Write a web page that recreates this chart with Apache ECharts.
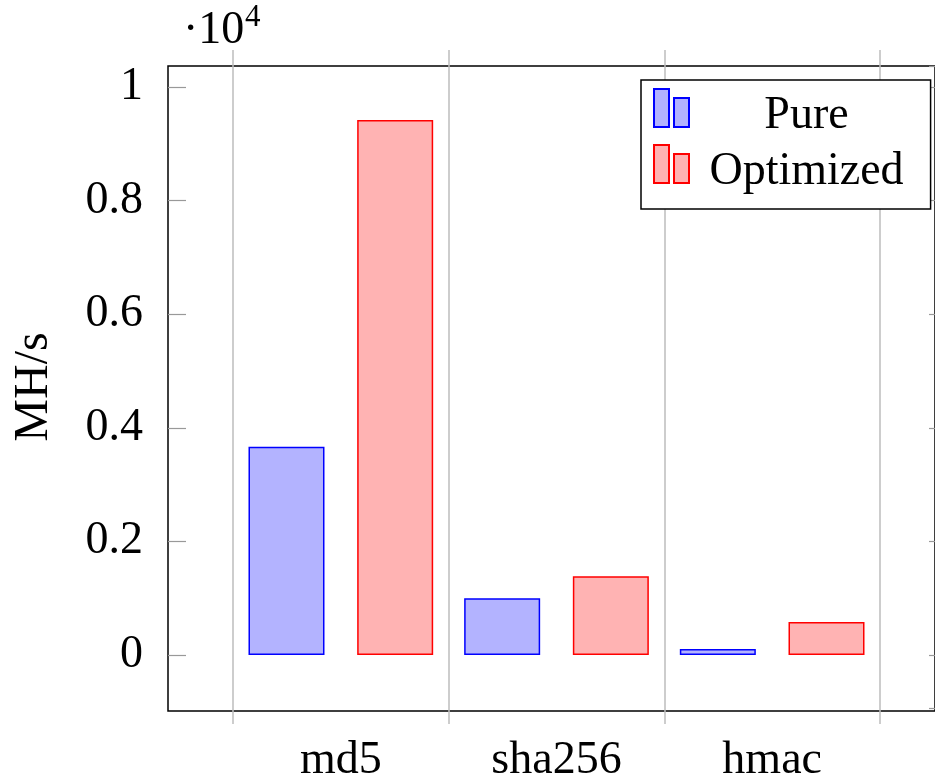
<!DOCTYPE html>
<html>
<head>
<meta charset="utf-8">
<script src="https://cdn.jsdelivr.net/npm/echarts@6/dist/echarts.min.js"></script>
<style>
  html, body { margin: 0; padding: 0; background: #fff; }
  #chart { width: 935px; height: 784px; }
</style>
</head>
<body>
<div id="chart"></div>
<script>
  // data (MH/s)
  const categories = ['md5', 'sha256', 'hmac'];
  const pure = [3667, 1000, 105];
  const optimized = [9421, 1386, 579];

  const FONT = 'Liberation Serif';
  const GRAY = '#bdbdbd';
  const NOLINE = { show: true, onZero: false, lineStyle: { color: 'rgba(0,0,0,0)' } };
  const Y_MIN = -934, Y_MAX = 10373;

  const chart = echarts.init(document.getElementById('chart'));

  // two little bars, with an empty point below so the label sits a bit lower
  const legendIcon = 'path://M0,0 h15 v38 h-15 z M20,9 h15 v29 h-15 z M0,54 h0.001';

  const option = {
    animation: false,
    backgroundColor: '#fff',
    textStyle: { fontFamily: FONT, color: '#000' },
    grid: [
      // main plot: band area between first and last grid lines
      { left: 233, right: 55, top: 66, bottom: 73, show: false },
      // outer frame
      { left: 168, right: -12, top: 66, bottom: 73, show: true,
        borderColor: '#000', borderWidth: 1.5, backgroundColor: 'transparent' }
    ],
    xAxis: [
      {
        type: 'category', gridIndex: 0, position: 'bottom',
        data: categories, boundaryGap: true,
        axisLine: NOLINE,
        axisTick: { show: true, inside: false, length: 16, lineStyle: { color: GRAY, width: 1.5 } },
        splitLine: { show: true, lineStyle: { color: GRAY, width: 1.5 } },
        axisLabel: { fontFamily: FONT, fontSize: 46, color: '#000', margin: 30 }
      },
      {
        type: 'category', gridIndex: 0, position: 'top',
        data: categories, boundaryGap: true,
        axisLine: NOLINE,
        axisTick: { show: true, inside: false, length: 16, lineStyle: { color: GRAY, width: 1.5 } },
        splitLine: { show: false },
        axisLabel: { show: false }
      },
      { type: 'value', gridIndex: 1, show: false }
    ],
    yAxis: [
      {
        type: 'value', gridIndex: 0, position: 'left', offset: 65,
        min: Y_MIN, max: Y_MAX, splitNumber: 5,
        axisLine: NOLINE,
        axisTick: { show: true, inside: true, length: 18, lineStyle: { color: '#999', width: 1.2 } },
        splitLine: { show: false },
        axisLabel: {
          fontFamily: FONT, fontSize: 46, color: '#000', margin: 25,
          showMinLabel: false, showMaxLabel: false,
          formatter: v => String(v / 10000)
        },
        name: 'MH/s', nameLocation: 'middle', nameGap: 110, nameRotate: 90,
        nameTextStyle: { fontFamily: FONT, fontSize: 48, color: '#000' }
      },
      {
        type: 'value', gridIndex: 0, position: 'right', offset: 67,
        min: Y_MIN, max: Y_MAX, splitNumber: 5,
        axisLine: NOLINE,
        axisTick: { show: true, inside: true, length: 18, lineStyle: { color: '#999', width: 1.2 } },
        splitLine: { show: false },
        axisLabel: { show: false, showMinLabel: false, showMaxLabel: false }
      },
      { type: 'value', gridIndex: 1, show: false }
    ],
    legend: {
      orient: 'vertical',
      left: 641, top: 80,
      padding: [8, 27, 9, 12],
      itemGap: 0,
      itemWidth: 35, itemHeight: 54,
      backgroundColor: '#fff',
      borderColor: '#000', borderWidth: 1.5, borderRadius: 0,
      icon: legendIcon,
      formatter: '{t|{name}}',
      textStyle: {
        rich: {
          t: { width: 225, align: 'center', fontFamily: FONT, fontSize: 46, color: '#000' }
        }
      },
      data: ['Pure', 'Optimized']
    },
    graphic: [
      { type: 'text', x: 183, y: 31,
        style: { text: '\u00b710', font: '46px "Liberation Serif"', fill: '#000', verticalAlign: 'middle' } },
      { type: 'text', x: 245, y: 18,
        style: { text: '4', font: '31px "Liberation Serif"', fill: '#000', verticalAlign: 'middle' } }
    ],
    series: [
      {
        name: 'Pure', type: 'bar', xAxisIndex: 0, yAxisIndex: 0,
        data: pure, barWidth: 76, barGap: '43%',
        itemStyle: { color: '#b3b3ff', borderColor: '#0000ff', borderWidth: 1.5 }
      },
      {
        name: 'Optimized', type: 'bar', xAxisIndex: 0, yAxisIndex: 0,
        data: optimized, barWidth: 76, barGap: '43%',
        itemStyle: { color: '#ffb3b3', borderColor: '#ff0000', borderWidth: 1.5 }
      }
    ]
  };

  chart.setOption(option);
</script>
</body>
</html>
